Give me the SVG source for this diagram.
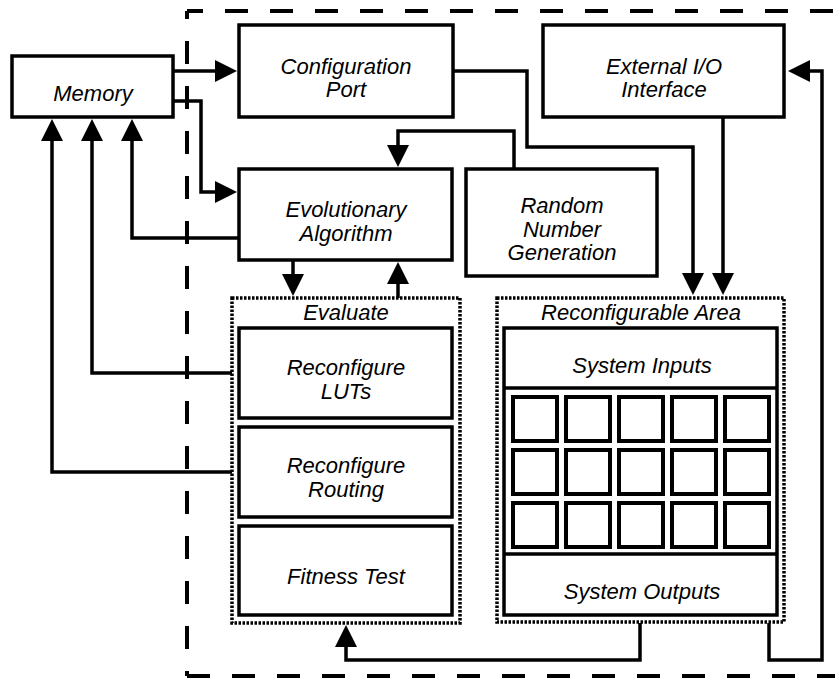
<svg xmlns="http://www.w3.org/2000/svg" width="835" height="679" viewBox="0 0 835 679">
  <style>
    .box { fill: #fff; stroke: #000; stroke-width: 3.5; }
    .cell { fill: #fff; stroke: #000; stroke-width: 4; }
    .dotted { fill: none; stroke: #000; stroke-width: 3.5; stroke-dasharray: 2.5 1.5; }
    .boundary { fill: none; stroke: #000; stroke-width: 4; stroke-dasharray: 23 22; }
    .wire { fill: none; stroke: #000; stroke-width: 3.5; stroke-linejoin: miter; }
    .arrow { marker-end: url(#head); }
    text { font-family: "Liberation Sans", Arial, sans-serif; font-style: italic; font-size: 22px; text-anchor: middle; fill: #000; }
  </style>
  <defs>
    <marker id="head" markerUnits="userSpaceOnUse" markerWidth="24" markerHeight="24" refX="12" refY="11" orient="auto">
      <path d="M0,0 L22,11 L0,22 z" fill="#000"/>
    </marker>
  </defs>

  <rect width="835" height="679" fill="#fff"/>

  <!-- chip boundary (dashed, open to the right) -->
  <g id="boundary">
    <line class="boundary" x1="187" y1="11" x2="845" y2="11" stroke-dashoffset="7"/>
    <line class="boundary" x1="187" y1="11" x2="187" y2="676" stroke-dashoffset="15"/>
    <line class="boundary" x1="187" y1="676" x2="845" y2="676"/>
  </g>

  <!-- connectors -->
  <g id="connectors">
    <!-- Memory -> Configuration Port -->
    <path class="wire arrow" d="M173,71 H227"/>
    <!-- Memory -> Evolutionary Algorithm -->
    <path class="wire arrow" d="M173,101 H201 V192 H227"/>
    <!-- Evolutionary Algorithm -> Memory -->
    <path class="wire arrow" d="M239,238 H132 V129"/>
    <!-- Reconfigure LUTs -> Memory -->
    <path class="wire arrow" d="M232,373 H92 V129"/>
    <!-- Reconfigure Routing -> Memory -->
    <path class="wire arrow" d="M232,472 H52 V129"/>
    <!-- Configuration Port -> Reconfigurable Area -->
    <path class="wire arrow" d="M453,71 H527 V147 H693 V285"/>
    <!-- External I/O -> Reconfigurable Area -->
    <path class="wire arrow" d="M723,117 V285"/>
    <!-- Random Number Generation -> Evolutionary Algorithm -->
    <path class="wire arrow" d="M514,169 V131 H398 V157"/>
    <!-- Evolutionary Algorithm -> Evaluate -->
    <path class="wire arrow" d="M293,260 V286"/>
    <!-- Evaluate -> Evolutionary Algorithm -->
    <path class="wire arrow" d="M398,298 V272"/>
    <!-- System Outputs -> Fitness Test -->
    <path class="wire arrow" d="M640,623 V660 H346 V635"/>
    <!-- System Outputs -> External I/O -->
    <path class="wire arrow" d="M769,623 V660 H822 V71 H798"/>
  </g>

  <g id="memory">
    <rect class="box" x="12" y="56" width="161" height="61"/>
    <text x="93" y="101">Memory</text>
  </g>

  <g id="config-port">
    <rect class="box" x="239" y="25" width="214" height="92"/>
    <text x="346" y="74">Configuration</text>
    <text x="346" y="97">Port</text>
  </g>

  <g id="external-io">
    <rect class="box" x="543" y="25" width="241" height="92"/>
    <text x="664" y="74">External I/O</text>
    <text x="664" y="97">Interface</text>
  </g>

  <g id="evolutionary-algorithm">
    <rect class="box" x="239" y="169" width="213" height="91"/>
    <text x="346" y="217">Evolutionary</text>
    <text x="346" y="241">Algorithm</text>
  </g>

  <g id="random-number">
    <rect class="box" x="466" y="169" width="191" height="107"/>
    <text x="562" y="213">Random</text>
    <text x="562" y="237">Number</text>
    <text x="562" y="260">Generation</text>
  </g>

  <g id="evaluate">
    <rect class="dotted" x="232" y="298" width="228" height="325"/>
    <text x="346" y="320">Evaluate</text>
    <g id="reconfigure-luts">
      <rect class="box" x="239" y="328" width="213" height="90"/>
      <text x="346" y="375">Reconfigure</text>
      <text x="346" y="399">LUTs</text>
    </g>
    <g id="reconfigure-routing">
      <rect class="box" x="239" y="427" width="213" height="90"/>
      <text x="346" y="473">Reconfigure</text>
      <text x="346" y="497">Routing</text>
    </g>
    <g id="fitness-test">
      <rect class="box" x="239" y="526" width="213" height="89"/>
      <text x="346" y="584">Fitness Test</text>
    </g>
  </g>

  <g id="reconfigurable-area">
    <rect class="dotted" x="497" y="298" width="287" height="324"/>
    <text x="641" y="320">Reconfigurable Area</text>
    <rect class="box" x="504" y="328" width="273" height="287"/>
    <line x1="504" y1="388" x2="777" y2="388" stroke="#000" stroke-width="3.5"/>
    <line x1="504" y1="554" x2="777" y2="554" stroke="#000" stroke-width="3.5"/>
    <g id="system-inputs">
      <text x="642" y="373">System Inputs</text>
    </g>
    <g id="logic-grid">
      <rect class="cell" x="513" y="397" width="44" height="44"/>
      <rect class="cell" x="566" y="397" width="44" height="44"/>
      <rect class="cell" x="619" y="397" width="44" height="44"/>
      <rect class="cell" x="672" y="397" width="44" height="44"/>
      <rect class="cell" x="725" y="397" width="44" height="44"/>
      <rect class="cell" x="513" y="450" width="44" height="44"/>
      <rect class="cell" x="566" y="450" width="44" height="44"/>
      <rect class="cell" x="619" y="450" width="44" height="44"/>
      <rect class="cell" x="672" y="450" width="44" height="44"/>
      <rect class="cell" x="725" y="450" width="44" height="44"/>
      <rect class="cell" x="513" y="503" width="44" height="44"/>
      <rect class="cell" x="566" y="503" width="44" height="44"/>
      <rect class="cell" x="619" y="503" width="44" height="44"/>
      <rect class="cell" x="672" y="503" width="44" height="44"/>
      <rect class="cell" x="725" y="503" width="44" height="44"/>
    </g>
    <g id="system-outputs">
      <text x="642" y="599">System Outputs</text>
    </g>
  </g>
</svg>
